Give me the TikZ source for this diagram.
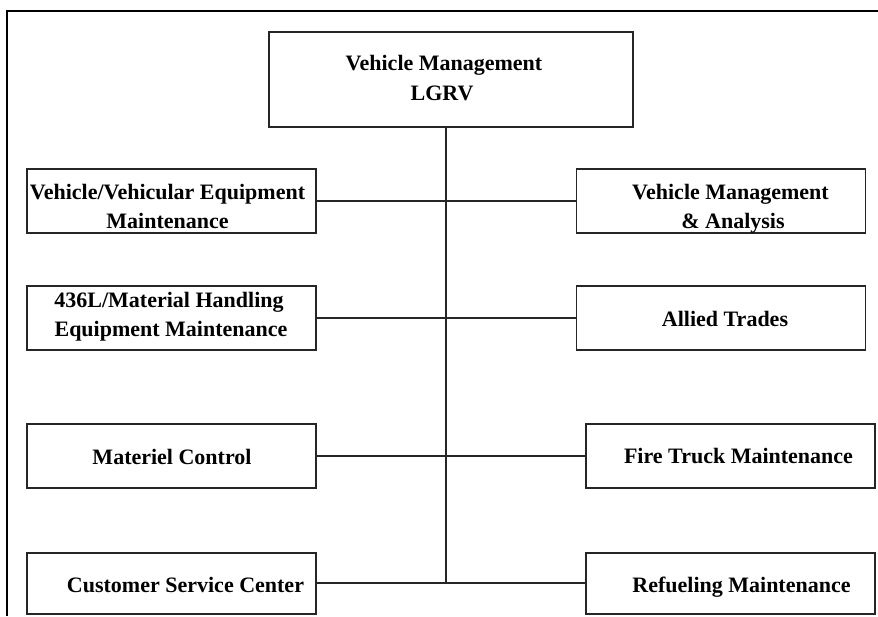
\documentclass[tikz,border=0pt]{standalone}
\usepackage{fontspec}
\setmainfont{Liberation Serif}
\begin{document}
\begin{tikzpicture}[x=1pt,y=-1pt,
  box/.style={draw=black!85, line width=1.1pt, rectangle, inner sep=0pt,
    minimum width=289pt, minimum height=64pt},
  txt/.style={anchor=base, inner sep=0pt, font=\fontsize{22}{29}\selectfont\bfseries},
  link/.style={draw=black!85, line width=1.1pt}]
\useasboundingbox (0,0) rectangle (878,616);
\fill[white] (0,0) rectangle (878,616);
\draw[line width=2.4pt] (7,616) -- (7,11) -- (880,11);
% boxes
\node[box, minimum width=364pt, minimum height=95pt] (top) at (451,79.5) {};
\node[box] (l1) at (171.5,201) {};
\node[box] (r1) at (721,201) {};
\node[box] (l2) at (171.5,318) {};
\node[box] (r2) at (721,318) {};
\node[box] (l3) at (171.5,456) {};
\node[box] (r3) at (730.5,456) {};
\node[box, minimum height=61pt] (l4) at (171.5,583.5) {};
\node[box, minimum height=61pt] (r4) at (730.5,583.5) {};
% texts
\node[txt] (topa) at (444,70) {Vehicle Management};
\node[txt] (topb) at (442,100) {LGRV};
\node[txt] (l1a) at (167.5,199) {Vehicle/Vehicular Equipment};
\node[txt] (l1b) at (167.5,228) {Maintenance};
\node[txt] (r1a) at (730.5,199) {Vehicle Management};
\node[txt] (r1b) at (733,228) {\& Analysis};
\node[txt] (l2a) at (169,307) {436L/Material Handling};
\node[txt] (l2b) at (171,336) {Equipment Maintenance};
\node[txt] (r2a) at (725,326) {Allied Trades};
\node[txt] (l3a) at (172,464) {Materiel Control};
\node[txt] (r3a) at (738.5,463) {Fire Truck Maintenance};
\node[txt] (l4a) at (185.5,592) {Customer Service Center};
\node[txt] (r4a) at (741.5,592) {Refueling Maintenance};
% connectors
\coordinate (spinebot) at (446,583);
\draw[link] (top.south -| spinebot) -- (spinebot);
\draw[link] (l1) -- (r1);
\draw[link] (l2) -- (r2);
\draw[link] (l3) -- (r3);
\draw[link] (l4.east |- spinebot) -- (r4.west |- spinebot);
\end{tikzpicture}
\end{document}
